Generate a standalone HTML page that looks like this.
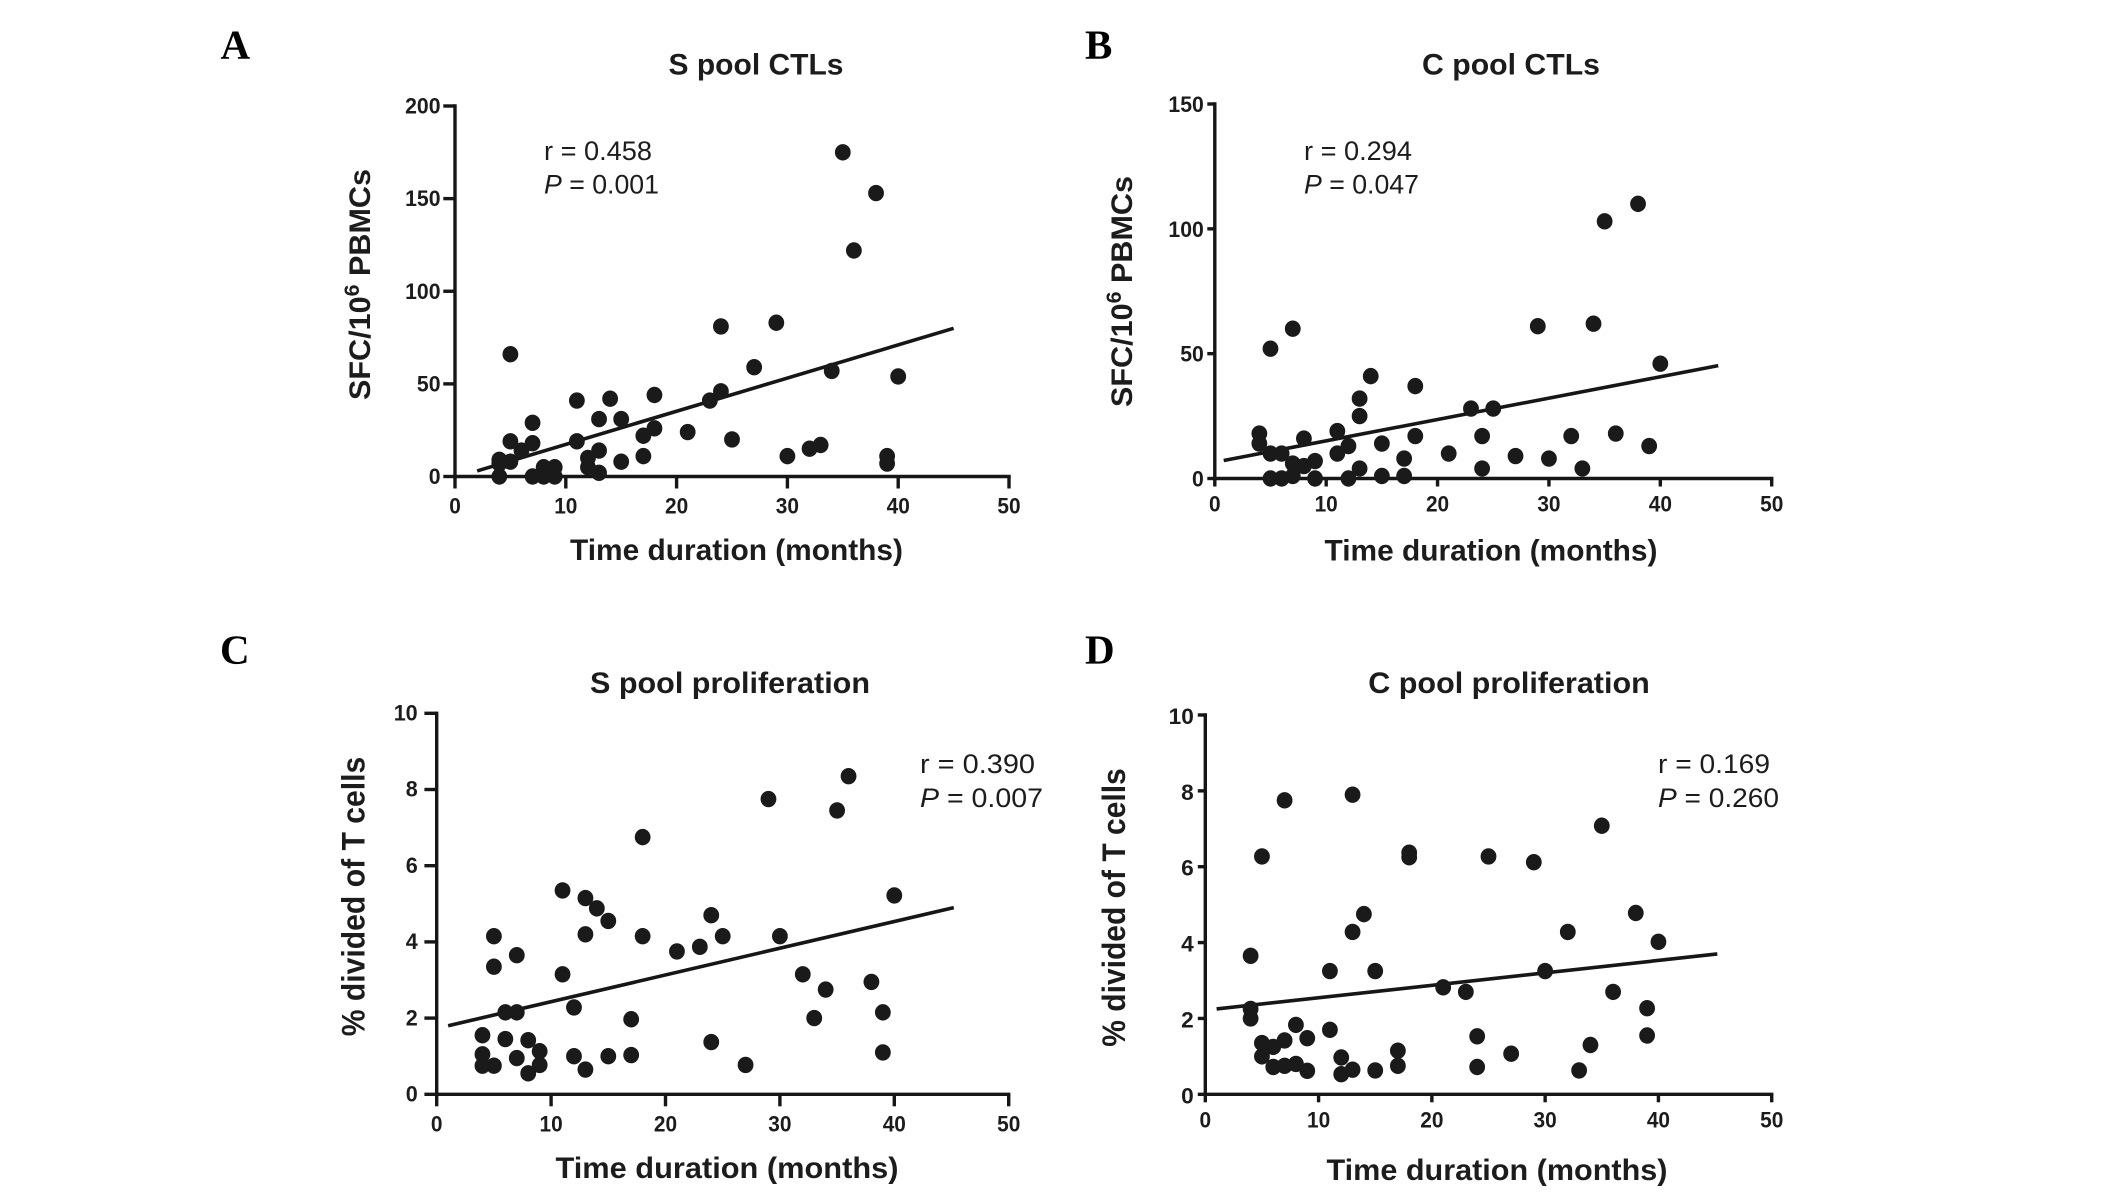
<!DOCTYPE html>
<html lang="en">
<head>
<meta charset="utf-8">
<title>T cell responses versus time duration</title>
<style>
html,body{margin:0;padding:0;background:#fff;width:2126px;height:1196px;overflow:hidden}
svg{display:block}
text{font-family:"Liberation Sans",sans-serif;fill:#1c1c1c}
.letter{font-family:"Liberation Serif",serif;font-weight:bold;font-size:41px;fill:#000}
.title{font-weight:bold;font-size:30px;text-anchor:middle}
.xtitle{font-weight:bold;font-size:30px;text-anchor:middle}
.ytitle{font-weight:bold;font-size:30px;text-anchor:middle}
.ytitle-wide{font-weight:bold;font-size:32px;text-anchor:middle}
.stat{font-size:27px}
.tick{font-weight:bold;font-size:22.5px}
</style>
</head>
<body>
<svg id="figure" width="2126" height="1196" viewBox="0 0 2126 1196" xmlns="http://www.w3.org/2000/svg">
  <rect width="2126" height="1196" fill="#fff"/>

  <g id="panel-a">
    <text class="letter" x="220.5" y="58.5">A</text>
    <text class="title" x="756" y="74.5" textLength="175" lengthAdjust="spacingAndGlyphs">S pool CTLs</text>
    <text class="xtitle" x="736.5" y="560" textLength="333" lengthAdjust="spacingAndGlyphs">Time duration (months)</text>
    <text class="ytitle" transform="translate(370 284.5) rotate(-90)" textLength="231" lengthAdjust="spacingAndGlyphs">SFC/10<tspan dy="-11" font-size="21">6</tspan><tspan dy="11"> PBMCs</tspan></text>
    <text class="stat" x="544" y="160" textLength="108" lengthAdjust="spacingAndGlyphs">r = 0.458</text>
    <text class="stat" x="544" y="193.5" textLength="115" lengthAdjust="spacingAndGlyphs"><tspan font-style="italic">P</tspan> = 0.001</text>
  </g>

  <g id="panel-b">
    <text class="letter" x="1085" y="58.5">B</text>
    <text class="title" x="1511" y="74.5" textLength="178" lengthAdjust="spacingAndGlyphs">C pool CTLs</text>
    <text class="xtitle" x="1491" y="560.5" textLength="333" lengthAdjust="spacingAndGlyphs">Time duration (months)</text>
    <text class="ytitle" transform="translate(1132 291.5) rotate(-90)" textLength="231" lengthAdjust="spacingAndGlyphs">SFC/10<tspan dy="-11" font-size="21">6</tspan><tspan dy="11"> PBMCs</tspan></text>
    <text class="stat" x="1304" y="160" textLength="108" lengthAdjust="spacingAndGlyphs">r = 0.294</text>
    <text class="stat" x="1304" y="193.5" textLength="115" lengthAdjust="spacingAndGlyphs"><tspan font-style="italic">P</tspan> = 0.047</text>
  </g>

  <g id="panel-c">
    <text class="letter" x="220" y="663.5">C</text>
    <text class="title" x="730" y="693" textLength="280" lengthAdjust="spacingAndGlyphs">S pool proliferation</text>
    <text class="xtitle" x="727" y="1178" textLength="343" lengthAdjust="spacingAndGlyphs">Time duration (months)</text>
    <text class="ytitle-wide" transform="translate(364.5 896.5) rotate(-90)" textLength="279.5" lengthAdjust="spacingAndGlyphs">% divided of T cells</text>
    <text class="stat" x="920" y="773" textLength="115" lengthAdjust="spacingAndGlyphs">r = 0.390</text>
    <text class="stat" x="920" y="807" textLength="123" lengthAdjust="spacingAndGlyphs"><tspan font-style="italic">P</tspan> = 0.007</text>
  </g>

  <g id="panel-d">
    <text class="letter" x="1085" y="663.5">D</text>
    <text class="title" x="1509" y="693" textLength="281.5" lengthAdjust="spacingAndGlyphs">C pool proliferation</text>
    <text class="xtitle" x="1497" y="1180" textLength="341" lengthAdjust="spacingAndGlyphs">Time duration (months)</text>
    <text class="ytitle-wide" transform="translate(1125 907.5) rotate(-90)" textLength="278.5" lengthAdjust="spacingAndGlyphs">% divided of T cells</text>
    <text class="stat" x="1658" y="773" textLength="112" lengthAdjust="spacingAndGlyphs">r = 0.169</text>
    <text class="stat" x="1658" y="807" textLength="121" lengthAdjust="spacingAndGlyphs"><tspan font-style="italic">P</tspan> = 0.260</text>
  </g>
</svg>

<script>
const xTickLabels = [0, 10, 20, 30, 40, 50];

const yTicksA = [0, 50, 100, 150, 200];
const monthsA = [4,4,4,5,5,5,6,7,7,7,8,8,9,9,11,11,12,12,13,13,13,14,15,15,17,17,18,18,21,23,24,24,25,27,29,30,32,33,34,35,36,38,39,39,40];
const valuesA = [0,7,9,8,19,66,14,0,18,29,0,5,0,5,19,41,5,10,2,14,31,42,8,31,11,22,26,44,24,41,46,81,20,59,83,11,15,17,57,175,122,153,7,11,54];
const fitMonthsA = [2, 45];
const fitValuesA = [3, 80];

const yTicksB = [0, 50, 100, 150];
const monthsB = [4,4,5,5,5,6,6,7,7,7,8,8,9,9,11,11,12,12,13,13,13,14,15,15,17,17,18,18,21,23,24,24,25,27,29,30,32,33,34,35,36,38,39,40];
const valuesB = [14,18,0,10,52,0,10,1,6,60,5,16,0,7,10,19,0,13,4,25,32,41,1,14,1,8,17,37,10,28,4,17,28,9,61,8,17,4,62,103,18,110,13,46];
const fitMonthsB = [0.8, 45.2];
const fitValuesB = [7.2, 45.2];

const yTicksC = [0, 2, 4, 6, 8, 10];
const monthsC = [4,4,4,5,5,5,6,6,7,7,7,8,8,9,9,11,11,12,12,13,13,13,14,15,15,17,17,18,18,21,23,24,24,25,27,29,30,32,33,34,35,36,38,39,39,40];
const valuesC = [0.75,1.05,1.55,0.75,3.35,4.15,1.45,2.15,0.95,2.15,3.65,0.55,1.42,0.77,1.13,3.15,5.35,1.0,2.28,0.65,4.2,5.15,4.88,1.0,4.55,1.03,1.97,4.15,6.75,3.75,3.87,1.37,4.7,4.15,0.77,7.75,4.15,3.15,2.0,2.75,7.45,8.35,2.95,1.1,2.15,5.22];
const fitMonthsC = [1, 45.2];
const fitValuesC = [1.8, 4.9];

const yTicksD = [0, 2, 4, 6, 8, 10];
const monthsD = [4,4,4,5,5,5,6,6,7,7,7,8,8,9,9,11,11,12,12,13,13,13,14,15,15,17,17,18,18,21,23,24,24,25,27,29,30,32,33,34,35,36,38,39,39,40];
const valuesD = [2.0,2.25,3.65,1.0,1.35,6.27,0.72,1.25,0.75,1.42,7.75,0.8,1.83,0.62,1.48,1.7,3.25,0.53,0.97,0.65,4.28,7.9,4.75,0.63,3.25,0.75,1.15,6.25,6.37,2.82,2.7,0.72,1.53,6.27,1.07,6.12,3.25,4.28,0.63,1.3,7.08,2.7,4.78,1.55,2.27,4.02];
const fitMonthsD = [1, 45.2];
const fitValuesD = [2.25, 3.7];

const SVG_NS = 'http://www.w3.org/2000/svg';

function svgEl(tag, parent, attrs) {
  const el = document.createElementNS(SVG_NS, tag);
  for (const key in attrs) el.setAttribute(key, attrs[key]);
  parent.appendChild(el);
  return el;
}

function drawPanel(id, box, yTicks, months, values, fitMonths, fitValues) {
  const parent = document.getElementById('panel-' + id);
  const xMax = xTickLabels[xTickLabels.length - 1];
  const yMax = yTicks[yTicks.length - 1];
  const xScale = v => box.x0 + (box.x1 - box.x0) * v / xMax;
  const yScale = v => box.y0 + (box.y1 - box.y0) * v / yMax;
  const axisStyle = {stroke: '#161616', 'stroke-width': 3.4, fill: 'none'};

  const yAxis = svgEl('line', parent, Object.assign({x1: box.x0, x2: box.x0, y1: box.y0 + 1.7, y2: box.y1 - 1.7}, axisStyle));
  
  
  const xAxis = svgEl('line', parent, Object.assign({x1: box.x0 - 1.7, x2: box.x1 + 1.7, y1: box.y0, y2: box.y0}, axisStyle));
  
  

  xTickLabels.forEach(function (t) {
    const px = xScale(t);
    const mark = svgEl('line', parent, Object.assign({x1: px, x2: px, y1: box.y0, y2: box.y0 + box.xTickLen}, axisStyle));
    
    
    const s = String(t);
    const label = svgEl('text', parent, {class: 'tick', x: px, y: box.y0 + box.xLabelDrop, 'text-anchor': 'middle', textLength: s.length * 11.6, lengthAdjust: 'spacingAndGlyphs'});
    label.textContent = s;
    
    
  });

  yTicks.forEach(function (t) {
    const py = yScale(t);
    const mark = svgEl('line', parent, Object.assign({x1: box.x0 - box.yTickLen, x2: box.x0, y1: py, y2: py}, axisStyle));
    
    
    const s = String(t);
    const label = svgEl('text', parent, {class: 'tick', x: box.x0 - box.yLabelGap, y: py + box.yLabelDrop, 'text-anchor': 'end', textLength: s.length * box.digitWidth, lengthAdjust: 'spacingAndGlyphs'});
    label.textContent = s;
    
    
  });

  const fit = svgEl('line', parent, {
    x1: xScale(fitMonths[0]), y1: yScale(fitValues[0]),
    x2: xScale(fitMonths[1]), y2: yScale(fitValues[1]),
    stroke: '#161616', 'stroke-width': 3.6
  });
  
  

  months.forEach(function (m, i) {
    const dot = svgEl('ellipse', parent, {cx: xScale(m), cy: yScale(values[i]), rx: 7.9, ry: 8.2, fill: '#1a1a1a'});
    
    
  });
}

drawPanel('a', {x0: 455, x1: 1009, y0: 476.5, y1: 106, xTickLen: 12, xLabelDrop: 37, yTickLen: 11.7, yLabelGap: 14.5, yLabelDrop: 7.5, digitWidth: 11.8}, yTicksA, monthsA, valuesA, fitMonthsA, fitValuesA);
drawPanel('b', {x0: 1214.8, x1: 1771.7, y0: 478.5, y1: 104, xTickLen: 8, xLabelDrop: 33, yTickLen: 7.5, yLabelGap: 11, yLabelDrop: 8, digitWidth: 11.8}, yTicksB, monthsB, valuesB, fitMonthsB, fitValuesB);
drawPanel('c', {x0: 436.7, x1: 1008.7, y0: 1094.3, y1: 713.3, xTickLen: 12, xLabelDrop: 37, yTickLen: 12.3, yLabelGap: 19, yLabelDrop: 7.2, digitWidth: 12}, yTicksC, monthsC, valuesC, fitMonthsC, fitValuesC);
drawPanel('d', {x0: 1205.3, x1: 1771.7, y0: 1094.3, y1: 715, xTickLen: 8, xLabelDrop: 33, yTickLen: 7.5, yLabelGap: 11.5, yLabelDrop: 9, digitWidth: 12.6}, yTicksD, monthsD, valuesD, fitMonthsD, fitValuesD);
</script>
</body>
</html>
